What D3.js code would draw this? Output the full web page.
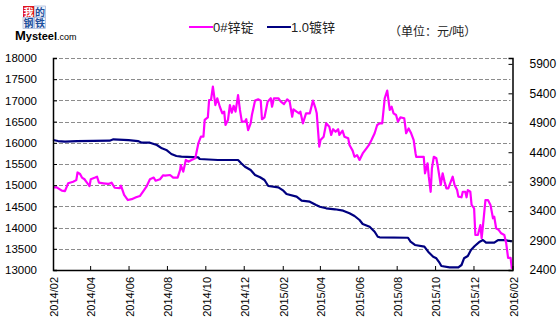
<!DOCTYPE html>
<html><head><meta charset="utf-8">
<script src="https://cdn.jsdelivr.net/npm/d3@7"></script>
<style>
html,body{margin:0;padding:0;background:#fff;}
svg{display:block;}
text{font-family:"Liberation Sans",Arial,"Noto Sans CJK SC",sans-serif;}
</style></head>
<body>
<svg id="chart" width="560" height="334"></svg>
<script>
// ---------- DATA ----------
const xTickLabels = ["2014/02","2014/04","2014/06","2014/08","2014/10","2014/12","2015/02","2015/04","2015/06","2015/08","2015/10","2015/12","2016/02"];
const leftTicks = [13000,13500,14000,14500,15000,15500,16000,16500,17000,17500,18000];
const rightTicks = [2400,2900,3400,3900,4400,4900,5400,5900];
const seriesNames = ["0#锌锭","1.0镀锌"];
const unitLabel = "（单位：元/吨）";

const zincDates = ["2014-02-01","2014-02-07","2014-02-15","2014-02-20","2014-02-25","2014-03-05","2014-03-10","2014-03-12","2014-03-16","2014-03-19","2014-03-23","2014-03-26","2014-03-31","2014-04-02","2014-04-09","2014-04-12","2014-04-15","2014-04-22","2014-04-30","2014-05-05","2014-05-10","2014-05-18","2014-05-20","2014-05-25","2014-05-31","2014-06-06","2014-06-13","2014-06-19","2014-06-24","2014-06-30","2014-07-05","2014-07-11","2014-07-14","2014-07-21","2014-07-26","2014-07-29","2014-08-06","2014-08-11","2014-08-18","2014-08-22","2014-08-23","2014-08-27","2014-08-31","2014-09-04","2014-09-09","2014-09-15","2014-09-20","2014-09-24","2014-09-28","2014-09-30","2014-10-05","2014-10-07","2014-10-10","2014-10-13","2014-10-17","2014-10-20","2014-10-24","2014-10-28","2014-10-31","2014-11-02","2014-11-06","2014-11-09","2014-11-12","2014-11-15","2014-11-18","2014-11-22","2014-11-25","2014-11-28","2014-12-03","2014-12-05","2014-12-08","2014-12-12","2014-12-14","2014-12-19","2014-12-24","2014-12-28","2014-12-30","2015-01-03","2015-01-08","2015-01-13","2015-01-15","2015-01-18","2015-01-25","2015-01-29","2015-02-03","2015-02-08","2015-02-12","2015-02-16","2015-02-18","2015-02-23","2015-02-27","2015-03-01","2015-03-05","2015-03-10","2015-03-16","2015-03-21","2015-03-25","2015-03-27","2015-03-31","2015-04-02","2015-04-07","2015-04-11","2015-04-16","2015-04-19","2015-04-22","2015-04-26","2015-04-30","2015-05-02","2015-05-07","2015-05-10","2015-05-16","2015-05-18","2015-05-23","2015-05-26","2015-05-30","2015-06-03","2015-06-08","2015-06-14","2015-06-18","2015-06-22","2015-06-27","2015-07-01","2015-07-05","2015-07-09","2015-07-13","2015-07-17","2015-07-21","2015-07-24","2015-07-27","2015-07-31","2015-08-03","2015-08-07","2015-08-13","2015-08-16","2015-08-20","2015-08-24","2015-08-28","2015-08-31","2015-09-01","2015-09-13","2015-09-15","2015-09-19","2015-09-21","2015-09-24","2015-09-26","2015-09-29","2015-10-03","2015-10-05","2015-10-10","2015-10-13","2015-10-16","2015-10-19","2015-10-22","2015-10-26","2015-10-29","2015-11-01","2015-11-05","2015-11-07","2015-11-12","2015-11-14","2015-11-18","2015-11-20","2015-11-22","2015-11-26","2015-11-28","2015-12-02","2015-12-04","2015-12-08","2015-12-12","2015-12-14","2015-12-17","2015-12-20","2015-12-24","2015-12-28","2016-01-01","2016-01-03","2016-01-06","2016-01-10","2016-01-14","2016-01-19","2016-01-22","2016-01-25","2016-01-29","2016-01-31"];
const zincValues = [14950,14950,14870,14860,15045,15080,15120,15300,15265,15180,15140,15080,14980,15140,15180,15200,15060,15045,15030,15060,14940,14930,14990,14770,14650,14670,14715,14745,14850,14980,15140,15180,15105,15140,15235,15225,15240,15177,15177,15360,15475,15320,15595,15555,15595,15635,15990,16145,16145,16540,16600,17010,17010,17325,16890,17050,16850,16695,16735,16420,16540,16890,16710,16870,16735,17125,16775,16500,16500,16555,16300,16460,16655,16995,17025,16995,16555,16600,16970,17050,16850,17050,17050,16970,16915,17025,16970,16615,16790,16735,16695,16735,16460,16695,16695,16995,16815,16695,15910,16065,16145,16460,16380,16185,16320,16260,16320,16185,16285,16145,16105,15950,15815,15670,15710,15595,15750,15870,15950,16065,16225,16420,16460,16460,17050,17230,16775,16850,16695,16655,16500,16600,16580,16225,16340,16225,16065,15750,15670,15670,15280,15515,15200,14845,15400,15670,15635,15475,15005,15280,15085,14925,14925,15085,15200,15005,14885,14730,14715,14845,14845,14715,14885,14845,14535,14455,13825,13825,14060,13750,14180,14650,14650,14535,14220,14255,13985,13945,13865,13825,13630,13285,13285,13025];

const galvDates = ["2014-02-01","2014-02-09","2014-02-20","2014-03-11","2014-05-02","2014-05-08","2014-06-01","2014-06-16","2014-06-22","2014-07-05","2014-07-16","2014-07-24","2014-07-31","2014-08-08","2014-08-16","2014-08-24","2014-09-20","2014-09-22","2014-10-21","2014-11-22","2014-11-27","2014-12-03","2014-12-12","2014-12-19","2014-12-27","2015-01-03","2015-01-09","2015-01-25","2015-02-02","2015-02-07","2015-02-23","2015-03-03","2015-03-16","2015-03-26","2015-04-01","2015-04-11","2015-04-25","2015-05-08","2015-05-18","2015-05-26","2015-06-03","2015-06-08","2015-06-19","2015-06-27","2015-07-02","2015-07-05","2015-08-19","2015-08-23","2015-08-30","2015-09-14","2015-09-20","2015-09-28","2015-10-03","2015-10-08","2015-10-11","2015-10-24","2015-11-07","2015-11-12","2015-11-16","2015-11-22","2015-11-27","2015-12-03","2015-12-11","2015-12-16","2015-12-21","2016-01-03","2016-01-09","2016-01-19","2016-01-24","2016-01-31"];
const galvValues = [4607,4590,4579,4590,4596,4619,4607,4590,4562,4562,4523,4466,4438,4370,4336,4324,4314,4285,4268,4268,4212,4154,4098,4013,3974,3928,3826,3804,3747,3690,3645,3577,3560,3504,3475,3448,3431,3407,3363,3317,3249,3181,3135,3050,2965,2955,2948,2881,2825,2796,2711,2626,2599,2524,2468,2446,2446,2485,2599,2638,2740,2808,2881,2909,2864,2864,2909,2909,2900,2885];

// ---------- DRAW ----------
const svg = d3.select("#chart");
const L = 53, R = 512.5, T = 58, B = 270;
const parse = d3.timeParse("%Y-%m-%d");
const x = d3.scaleTime().domain([parse("2014-02-01"), parse("2016-02-01")]).range([L, R]);
const yL = d3.scaleLinear().domain([13000, 18000]).range([B, T]);
const yR = d3.scaleLinear().domain([2400, 6000]).range([B, T]);
const tickDates = xTickLabels.map(s => d3.timeParse("%Y/%m")(s));

// gridlines
svg.append("g").selectAll("line").data(leftTicks.filter(v => v > 13000)).join("line")
  .attr("x1", L).attr("x2", R - 2)
  .attr("y1", d => Math.round(yL(d)) + 0.5).attr("y2", d => Math.round(yL(d)) + 0.5)
  .attr("stroke", "#8c8c8c").attr("stroke-width", 1).attr("stroke-dasharray", "4,2");

// series
const zinc = zincDates.map((d, i) => ({date: parse(d), v: zincValues[i]}));
const galv = galvDates.map((d, i) => ({date: parse(d), v: galvValues[i]}));
svg.append("path").datum(galv)
  .attr("d", d3.line().x(d => x(d.date)).y(d => yR(d.v)))
  .attr("fill", "none").attr("stroke", "#000080").attr("stroke-width", 2.2).attr("stroke-linejoin", "round");
svg.append("path").datum(zinc)
  .attr("d", d3.line().x(d => x(d.date)).y(d => yL(d.v)))
  .attr("fill", "none").attr("stroke", "#ff00ff").attr("stroke-width", 2.2).attr("stroke-linejoin", "round");

// left axis
const gL = svg.append("g").attr("transform", `translate(${L},0)`)
  .call(d3.axisLeft(yL).tickValues(leftTicks).tickFormat(d3.format("d")).tickSize(-4).tickPadding(16));
gL.select(".domain").attr("stroke", "#000").attr("stroke-width", 1.5);
gL.selectAll("text").attr("font-size", "11.5px").attr("fill", "#000")
  .attr("font-family", "'Liberation Sans',Arial,sans-serif");

// right axis
const gR = svg.append("g").attr("transform", `translate(${R},0)`)
  .call(d3.axisRight(yR).tickValues(rightTicks).tickFormat(d3.format("d")).tickSize(-4).tickPadding(17));
gR.select(".domain").attr("stroke", "#000").attr("stroke-width", 1.5);
gR.selectAll("text").attr("font-size", "12px").attr("fill", "#000")
  .attr("font-family", "'Liberation Sans',Arial,sans-serif");

// bottom axis
const gB = svg.append("g").attr("transform", `translate(0,${B})`)
  .call(d3.axisBottom(x).tickValues(tickDates).tickFormat((d, i) => xTickLabels[i]).tickSize(-4).tickSizeOuter(0));
gB.select(".domain").attr("stroke", "#000").attr("stroke-width", 1.5);
gB.selectAll("text")
  .attr("font-size", "11px").attr("fill", "#000")
  .attr("font-family", "'DejaVu Sans Mono',monospace")
  .attr("text-anchor", "end")
  .attr("transform", "rotate(-90)")
  .attr("x", -7).attr("y", 1).attr("dy", "0.35em");

// legend
const legend = svg.append("g");
const legItems = [
  {name: seriesNames[0], color: "#ff00ff", x1: 189, x2: 213},
  {name: seriesNames[1], color: "#000080", x1: 267, x2: 291}
];
legItems.forEach(it => {
  legend.append("line").attr("x1", it.x1).attr("x2", it.x2).attr("y1", 27).attr("y2", 27)
    .attr("stroke", it.color).attr("stroke-width", 2);
  legend.append("text").attr("x", it.x2).attr("y", 32).attr("font-size", "13px").attr("fill", "#222")
    .text(it.name);
});
svg.append("text").attr("x", 389).attr("y", 36).attr("font-size", "12px").attr("fill", "#222")
  .attr("font-family", "'Noto Sans CJK SC',sans-serif").text(unitLabel);

// logo
const logo = svg.append("g");
const cjk = "'Noto Sans CJK SC',sans-serif";
logo.append("rect").attr("x", 23).attr("y", 6).attr("width", 11).attr("height", 11).attr("fill", "#e0141e");
logo.append("text").attr("x", 28.5).attr("y", 15.5).attr("text-anchor", "middle").attr("font-size", "10px")
  .attr("fill", "#fff").attr("font-family", cjk).attr("font-weight", "bold").text("我");
[["的", 34.5, 6], ["钢", 23, 17.5], ["铁", 34.5, 17.5]].forEach(([ch, bx, by]) => {
  logo.append("rect").attr("x", bx).attr("y", by).attr("width", 11).attr("height", 11)
    .attr("fill", "#eef2fa").attr("stroke", "#8fa6d2").attr("stroke-width", 0.6);
  logo.append("text").attr("x", bx + 5.5).attr("y", by + 9.5).attr("text-anchor", "middle").attr("font-size", "10px")
    .attr("fill", "#1d4f9c").attr("font-family", cjk).attr("font-weight", "bold").text(ch);
});
const brand = logo.append("text").attr("x", 15).attr("y", 40).attr("fill", "#000")
  .attr("font-family", "'Liberation Sans',Arial,sans-serif").attr("font-weight", "bold");
brand.append("tspan").attr("font-size", "13px").text("M");
brand.append("tspan").attr("font-size", "11px").text("ysteel");
brand.append("tspan").attr("font-size", "9px").attr("font-weight", "normal").text(".com");
</script>
</body></html>
